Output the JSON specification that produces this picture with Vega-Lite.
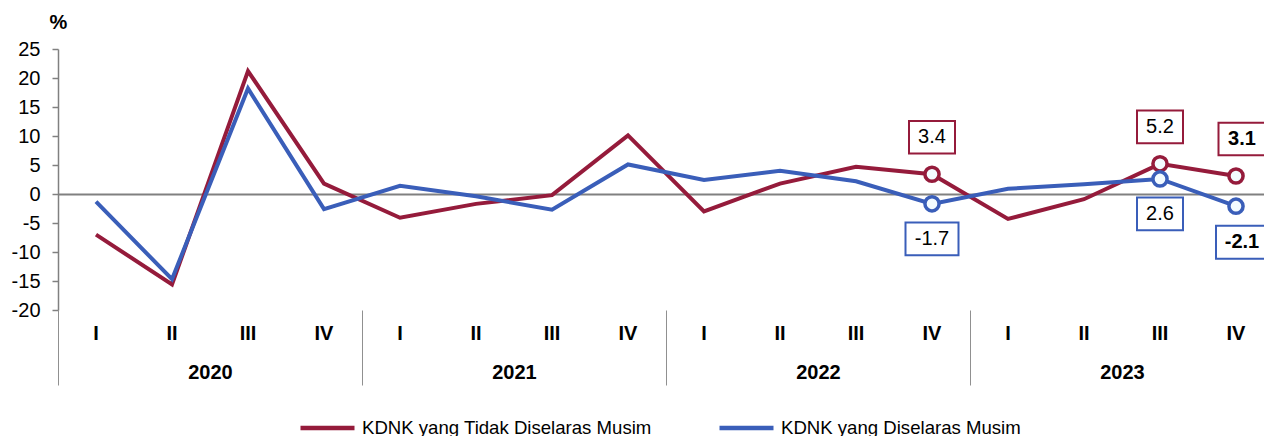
{
  "$schema": "https://vega.github.io/schema/vega-lite/v6.json",
  "width": 1206,
  "height": 261,
  "autosize": "none",
  "padding": {"left": 58, "top": 49, "right": 0, "bottom": 126},
  "config": {
    "font": "Liberation Sans",
    "view": {"stroke": null},
    "locale": {"number": {"decimal": ".", "thousands": ",", "grouping": [3], "currency": ["$", ""], "minus": "-"}},
    "axis": {"labelFont": "Liberation Sans", "titleFont": "Liberation Sans", "labelColor": "#000", "titleColor": "#000", "grid": false},
    "legend": {"labelFont": "Liberation Sans", "labelColor": "#000"}
  },
  "datasets": {
    "gdp": [
      {"period": "2020-I", "series": "KDNK yang Tidak Diselaras Musim", "v": -7.0},
      {"period": "2020-II", "series": "KDNK yang Tidak Diselaras Musim", "v": -15.6},
      {"period": "2020-III", "series": "KDNK yang Tidak Diselaras Musim", "v": 21.2},
      {"period": "2020-IV", "series": "KDNK yang Tidak Diselaras Musim", "v": 1.8},
      {"period": "2021-I", "series": "KDNK yang Tidak Diselaras Musim", "v": -4.1},
      {"period": "2021-II", "series": "KDNK yang Tidak Diselaras Musim", "v": -1.7},
      {"period": "2021-III", "series": "KDNK yang Tidak Diselaras Musim", "v": -0.2},
      {"period": "2021-IV", "series": "KDNK yang Tidak Diselaras Musim", "v": 10.1},
      {"period": "2022-I", "series": "KDNK yang Tidak Diselaras Musim", "v": -3.0},
      {"period": "2022-II", "series": "KDNK yang Tidak Diselaras Musim", "v": 1.8},
      {"period": "2022-III", "series": "KDNK yang Tidak Diselaras Musim", "v": 4.7},
      {"period": "2022-IV", "series": "KDNK yang Tidak Diselaras Musim", "v": 3.4},
      {"period": "2023-I", "series": "KDNK yang Tidak Diselaras Musim", "v": -4.3},
      {"period": "2023-II", "series": "KDNK yang Tidak Diselaras Musim", "v": -0.9},
      {"period": "2023-III", "series": "KDNK yang Tidak Diselaras Musim", "v": 5.2},
      {"period": "2023-IV", "series": "KDNK yang Tidak Diselaras Musim", "v": 3.1},
      {"period": "2020-I", "series": "KDNK yang Diselaras Musim", "v": -1.3},
      {"period": "2020-II", "series": "KDNK yang Diselaras Musim", "v": -14.7},
      {"period": "2020-III", "series": "KDNK yang Diselaras Musim", "v": 18.2},
      {"period": "2020-IV", "series": "KDNK yang Diselaras Musim", "v": -2.6},
      {"period": "2021-I", "series": "KDNK yang Diselaras Musim", "v": 1.4},
      {"period": "2021-II", "series": "KDNK yang Diselaras Musim", "v": -0.4},
      {"period": "2021-III", "series": "KDNK yang Diselaras Musim", "v": -2.7},
      {"period": "2021-IV", "series": "KDNK yang Diselaras Musim", "v": 5.1},
      {"period": "2022-I", "series": "KDNK yang Diselaras Musim", "v": 2.4},
      {"period": "2022-II", "series": "KDNK yang Diselaras Musim", "v": 4.0},
      {"period": "2022-III", "series": "KDNK yang Diselaras Musim", "v": 2.2},
      {"period": "2022-IV", "series": "KDNK yang Diselaras Musim", "v": -1.7},
      {"period": "2023-I", "series": "KDNK yang Diselaras Musim", "v": 0.9},
      {"period": "2023-II", "series": "KDNK yang Diselaras Musim", "v": 1.7},
      {"period": "2023-III", "series": "KDNK yang Diselaras Musim", "v": 2.6},
      {"period": "2023-IV", "series": "KDNK yang Diselaras Musim", "v": -2.1}
    ],
    "years": [{"year": "2020"}, {"year": "2021"}, {"year": "2022"}, {"year": "2023"}]
  },
  "layer": [
    {
      "data": {"name": "gdp"},
      "encoding": {
        "x": {
          "field": "period", "type": "ordinal", "sort": null,
          "scale": {"type": "band", "range": [0, 1216], "paddingInner": 0, "paddingOuter": 0},
          "axis": {"orient": "bottom", "title": null, "domain": false, "ticks": false, "tickSize": 0, "labelExpr": "slice(datum.label, 5)", "labelFontSize": 20, "labelFontWeight": "bold", "labelPadding": 13, "labelAngle": 0}
        },
        "y": {
          "field": "v", "type": "quantitative",
          "scale": {"domain": [-20, 25], "nice": false, "zero": false},
          "axis": {
            "values": [-20, -15, -10, -5, 0, 5, 10, 15, 20, 25], "format": "d",
            "title": "%", "titleAngle": 0, "titleAlign": "center", "titleBaseline": "alphabetic", "titleX": 0, "titleY": -21, "titleFontSize": 20, "titleFontWeight": "bold",
            "labelFontSize": 20, "labelPadding": 12, "tickSize": 6, "tickColor": "#808080", "tickWidth": 1.5,
            "domainColor": "#808080", "domainWidth": 1.5,
            "grid": true, "gridColor": "#808080", "gridWidth": 2,
            "gridOpacity": {"condition": {"test": "datum.value === 0", "value": 1}, "value": 0}
          }
        }
      },
      "layer": [
        {
          "mark": {"type": "line", "strokeWidth": 4},
          "encoding": {
            "color": {
              "field": "series", "type": "nominal",
              "scale": {"domain": ["KDNK yang Tidak Diselaras Musim", "KDNK yang Diselaras Musim"], "range": ["#951B3B", "#3A5EB9"]},
              "legend": {"orient": "none", "legendX": 240, "legendY": 349, "direction": "horizontal", "columns": 2, "title": null, "symbolType": "stroke", "symbolSize": 2916, "symbolStrokeWidth": 4.5, "labelFontSize": 18.6, "labelLimit": 500, "labelOffset": 5, "columnPadding": 58, "padding": 0}
            }
          }
        },
        {
          "transform": [{"filter": "indexof(['2022-IV','2023-III','2023-IV'], datum.period) >= 0"}],
          "mark": {"type": "point", "shape": "circle", "size": 200, "strokeWidth": 3.5, "fill": "#F3FBFF", "fillOpacity": 1, "opacity": 1},
          "encoding": {
            "stroke": {
              "field": "series", "type": "nominal",
              "scale": {"domain": ["KDNK yang Tidak Diselaras Musim", "KDNK yang Diselaras Musim"], "range": ["#951B3B", "#3A5EB9"]},
              "legend": null
            }
          }
        },
        {
          "transform": [{"filter": "datum.series === 'KDNK yang Tidak Diselaras Musim' && indexof(['2022-IV','2023-III'], datum.period) >= 0"}],
          "mark": {"type": "point", "shape": "M-1,-0.71L1,-0.71L1,0.71L-1,0.71Z", "size": 2116, "fill": "#ffffff", "fillOpacity": 1, "stroke": "#951B3B", "strokeWidth": 2, "opacity": 1, "yOffset": -37}
        },
        {
          "transform": [{"filter": "datum.series === 'KDNK yang Tidak Diselaras Musim' && indexof(['2022-IV','2023-III'], datum.period) >= 0"}],
          "mark": {"type": "text", "fontSize": 20, "color": "#000", "baseline": "middle", "align": "center", "yOffset": -37},
          "encoding": {"text": {"field": "v", "type": "quantitative", "format": ".1f"}}
        },
        {
          "transform": [{"filter": "datum.series === 'KDNK yang Tidak Diselaras Musim' && datum.period === '2023-IV'"}],
          "mark": {"type": "point", "shape": "M-1,-0.66L1,-0.66L1,0.66L-1,0.66Z", "size": 2401, "fill": "#ffffff", "fillOpacity": 1, "stroke": "#951B3B", "strokeWidth": 2, "opacity": 1, "yOffset": -37, "xOffset": 7}
        },
        {
          "transform": [{"filter": "datum.series === 'KDNK yang Tidak Diselaras Musim' && datum.period === '2023-IV'"}],
          "mark": {"type": "text", "fontSize": 20, "fontWeight": "bold", "color": "#000", "baseline": "middle", "align": "center", "yOffset": -37, "xOffset": 6},
          "encoding": {"text": {"field": "v", "type": "quantitative", "format": ".1f"}}
        },
        {
          "transform": [{"filter": "datum.series === 'KDNK yang Diselaras Musim' && indexof(['2022-IV','2023-III'], datum.period) >= 0"}],
          "mark": {"type": "point", "size": 2209, "fill": "#ffffff", "fillOpacity": 1, "stroke": "#3A5EB9", "strokeWidth": 2, "opacity": 1, "yOffset": 35},
          "encoding": {
            "shape": {"condition": {"test": "datum.v < 0", "value": "M-1,-0.62L1,-0.62L1,0.62L-1,0.62Z"}, "value": "M-1,-0.71L1,-0.71L1,0.71L-1,0.71Z"},
            "size": {"condition": {"test": "datum.v < 0", "value": 2809}, "value": 2116}
          }
        },
        {
          "transform": [{"filter": "datum.series === 'KDNK yang Diselaras Musim' && indexof(['2022-IV','2023-III'], datum.period) >= 0"}],
          "mark": {"type": "text", "fontSize": 20, "color": "#000", "baseline": "middle", "align": "center", "yOffset": 35},
          "encoding": {"text": {"field": "v", "type": "quantitative", "format": ".1f"}}
        },
        {
          "transform": [{"filter": "datum.series === 'KDNK yang Diselaras Musim' && datum.period === '2023-IV'"}],
          "mark": {"type": "point", "shape": "M-1,-0.59L1,-0.59L1,0.59L-1,0.59Z", "size": 3136, "fill": "#ffffff", "fillOpacity": 1, "stroke": "#3A5EB9", "strokeWidth": 2, "opacity": 1, "yOffset": 36, "xOffset": 8}
        },
        {
          "transform": [{"filter": "datum.series === 'KDNK yang Diselaras Musim' && datum.period === '2023-IV'"}],
          "mark": {"type": "text", "fontSize": 20, "fontWeight": "bold", "color": "#000", "baseline": "middle", "align": "center", "yOffset": 36, "xOffset": 6},
          "encoding": {"text": {"field": "v", "type": "quantitative", "format": ".1f"}}
        }
      ]
    },
    {
      "data": {"name": "years"},
      "mark": {"type": "rule", "opacity": 0},
      "encoding": {
        "x": {
          "field": "year", "type": "ordinal",
          "scale": {"type": "band", "range": [0, 1216], "paddingInner": 0, "paddingOuter": 0},
          "axis": {"orient": "bottom", "title": null, "domain": false, "ticks": true, "tickBand": "extent", "tickSize": 75, "tickColor": "#909090", "tickWidth": 1, "labelFontSize": 20, "labelFontWeight": "bold", "labelPadding": -23, "labelAngle": 0}
        }
      }
    }
  ],
  "resolve": {"scale": {"x": "independent"}, "axis": {"x": "independent"}}
}
